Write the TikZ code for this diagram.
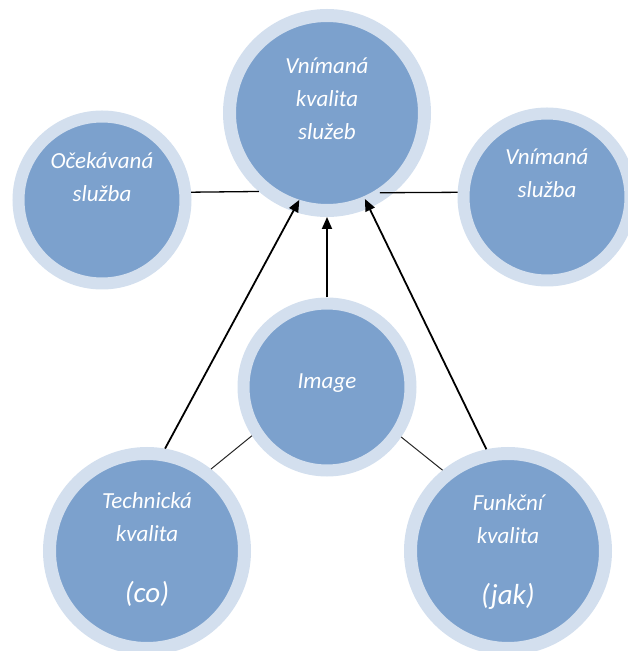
\documentclass[tikz,border=0pt]{standalone}
\usepackage{fontspec}
\setmainfont{Carlito}
\usetikzlibrary{arrows.meta}
\definecolor{ringblue}{RGB}{211,223,238}
\definecolor{fillblue}{RGB}{124,161,205}

\begin{document}
\begin{tikzpicture}[x=1pt, y=1pt,
        ringnode/.style={circle, draw=ringblue, fill=fillblue, line width=12pt, outer sep=6pt, inner sep=0pt, minimum size=167pt},
        bigringnode/.style={ringnode, line width=13pt, outer sep=6.5pt, minimum size=195pt},
        ringtext/.style={text=white, font=\fontsize{23}{33}\selectfont\itshape, align=center},
        arrowline/.style={-{Triangle[length=12pt,width=10pt]}, black, line width=1.8pt},
        plainline/.style={-, black, line width=1.3pt},
        thinline/.style={-, black!85, line width=1pt},
        ]
                \useasboundingbox (0,0) rectangle (627,651);

                \node[bigringnode, label={[ringtext, yshift=14pt]center:Vnímaná\\kvalita\\služeb}]  at(327,538) (vks) {};
                \node[ringnode, label={[ringtext, yshift=23pt]center:Očekávaná\\služba}]  at(102,451) (oce) {};
                \node[ringnode, label={[ringtext, yshift=24pt]center:Vnímaná\\služba}]  at(547,454) (vs) {};
                \node[ringnode, label={[ringtext, yshift=4pt]center:Image}]  at(327,264) (img) {};
                \node[bigringnode, label={[ringtext, yshift=1pt]center:Technická\\kvalita\\[28pt]{\fontsize{29}{33}\selectfont (co)}}]  at(147,100) (tk) {};
                \node[bigringnode, label={[ringtext, yshift=-1pt]center:Funkční\\kvalita\\[28pt]{\fontsize{29}{33}\selectfont (jak)}}]  at(508,100) (fk) {};

                \draw[plainline] (oce.5)  --  (vks.229.5) ;
                \draw[plainline, shorten <=-14pt] (vks.310.5)  --  (vs.177) ;
                \draw[arrowline, shorten >=-13pt] (tk.80)  --  (vks.251) ;
                \draw[arrowline] (img.north)  --  (vks.south) ;
                \draw[arrowline, shorten >=-10pt] (fk.102)  --  (vks.294) ;
                \draw[thinline] (tk.52)  --  (img.213) ;
                \draw[thinline] (img.326)  --  (fk.129) ;

            \end{tikzpicture}
\end{document}
